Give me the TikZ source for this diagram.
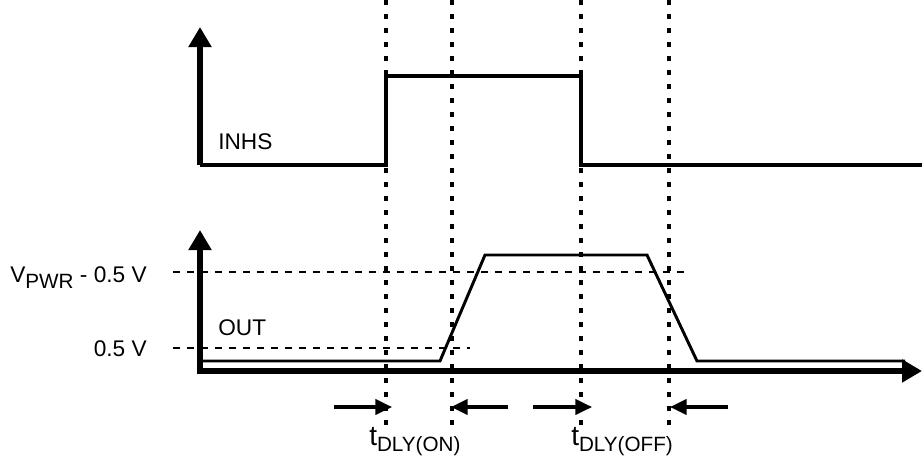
\documentclass[tikz,border=0pt]{standalone}
\usepackage{fontspec}
\setmainfont{Liberation Sans}
\usetikzlibrary{arrows.meta}

\begin{document}
\begin{tikzpicture}[x=0.75pt,y=-0.75pt,font=\fontsize{17}{19}\selectfont]
% Line styles
\tikzstyle{axis line}=[line width=3.8pt,-{Triangle[length=15pt,width=16.5pt]}];
\tikzstyle{signal line}=[line width=3.3pt];
\tikzstyle{output line}=[line width=2.2pt];
\tikzstyle{time line}=[line width=2.3pt,dash pattern=on 3.75pt off 6.75pt];
\tikzstyle{level line}=[line width=2.2pt,dash pattern=on 5.25pt off 5.25pt];
\tikzstyle{delay arrow}=[line width=2.4pt,-{Triangle[length=12.5pt,width=11.5pt]}];
\tikzstyle{label text}=[inner sep=0];
\useasboundingbox (0,0) rectangle (922,471);
% Time marks
\coordinate (on1) at (386,0);
\coordinate (on2) at (452,0);
\coordinate (off1) at (581,0);
\coordinate (off2) at (669,0);
\foreach \t in {on1,on2,off1,off2}
  \draw[time line] (\t) -- ++(0,432);
% INHS
\draw[axis line] (200,165) -- (200,27);
\draw[signal line] (200,165) -- (on1 |- 0,165) -- (on1 |- 0,76) -- (off1 |- 0,76)
  -- (off1 |- 0,165) -- (922,165);
\node[label text,anchor=base west] (inhs) at (218,149) {INHS};
% OUT
\draw[axis line,{Triangle[length=15pt,width=16.5pt]}-{Triangle[length=15pt,width=16.5pt]}]
  (200,230) -- (200,371) -- (922,371);
\draw[output line] (200,361) -- (440,361) -- (485,255) -- (647,255) -- (697,361) -- (905,361);
\node[label text,anchor=base west] (out) at (218,335) {OUT};
% levels
\node[label text,anchor=base east] (vhigh) at (147,282)
  {V\raisebox{-4.5pt}{\fontsize{15.5}{16}\selectfont PWR} - 0.5 V};
\node[label text,anchor=base east] (vlow) at (147,356) {0.5 V};
\draw[level line] (173,272) -- (690,272);
\draw[level line] (173,348) -- (470,348);
% delays
\draw[delay arrow] (334,407) -- (392,407);
\draw[delay arrow] (508,407) -- (451,407);
\draw[delay arrow] (533,407) -- (592,407);
\draw[delay arrow] (728,407) -- (670,407);
\node[label text,anchor=base west] (ton) at (369,445)
  {\fontsize{21}{22}\selectfont t\raisebox{-4.5pt}{\fontsize{15.5}{16}\selectfont DLY(ON)}};
\node[label text,anchor=base west] (toff) at (571,445)
  {\fontsize{21}{22}\selectfont t\raisebox{-4.5pt}{\fontsize{15.5}{16}\selectfont DLY(OFF)}};
\end{tikzpicture}
\end{document}
